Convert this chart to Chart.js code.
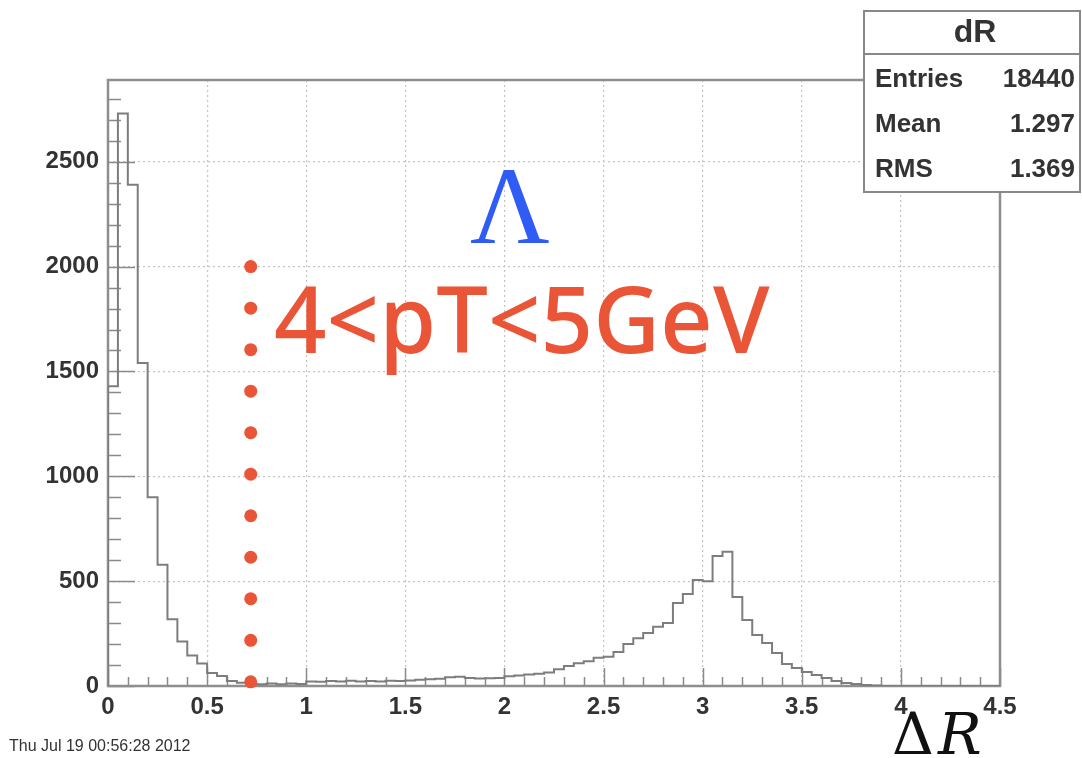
<!DOCTYPE html>
<html>
<head>
<meta charset="utf-8">
<title>dR</title>
<script src="https://cdn.jsdelivr.net/npm/chart.js@4.4.1/dist/chart.umd.min.js"></script>
<style>
  html, body { margin: 0; padding: 0; background: #fff; }
  #wrap { position: relative; width: 1082px; height: 758px; }
</style>
</head>
<body>
<div id="wrap"><canvas id="dr" width="1082" height="758"></canvas></div>
<script>
// dR histogram, 90 bins of 0.05 from 0 to 4.5
const binLow = 0
const binWidth = 0.05
const counts = [
  1430, 2730, 2390, 1540, 900, 578, 318, 212, 145, 107,
  62, 48, 24, 15, 10, 8, 12, 8, 12, 10,
  22, 20, 24, 22, 25, 22, 24, 22, 25, 24,
  26, 30, 32, 34, 42, 44, 38, 36, 37, 38,
  46, 50, 55, 58, 64, 80, 95, 108, 118, 135,
  140, 162, 200, 228, 253, 282, 300, 396, 439, 506,
  500, 620, 640, 425, 315, 243, 205, 157, 105, 86,
  67, 52, 38, 24, 14, 10, 5, 2, 0, 0,
  0, 0, 0, 0, 0, 0, 0, 0, 0, 0
]

// axis labels
const xMajor = [0, 0.5, 1, 1.5, 2, 2.5, 3, 3.5, 4, 4.5]
const xLabels = ["0", "0.5", "1", "1.5", "2", "2.5", "3", "3.5", "4", "4.5"]
const yMajor = [0, 500, 1000, 1500, 2000, 2500]
const yLabels = ["0", "500", "1000", "1500", "2000", "2500"]
const yMax = 2890

// cut marker (dotted red line)
const cutX = 0.72
const cutDots = [20, 218, 416, 614, 812, 1010, 1208, 1406, 1604, 1802, 2000]

// stats box
const statsTitle = "dR"
const statsNames = ["Entries", "Mean", "RMS"]
const statsValues = ["18440", "1.297", "1.369"]

const stamp = "Thu Jul 19 00:56:28 2012"

const RED = "#eb5537"

let histPoints = [{ x: binLow, y: 0 }]
counts.forEach((c, i) => histPoints.push({ x: binLow + i * binWidth, y: c }))
histPoints.push({ x: binLow + counts.length * binWidth, y: 0 })

const near = (v, list) => list.findIndex(m => Math.abs(m - v) < 1e-6)

// ticks drawn inward + frame, like a ROOT pad
let frame = {
  id: "frame",
  beforeDatasetsDraw(chart) {
    const { ctx, chartArea: a, scales: { x, y } } = chart
    ctx.save()
    ctx.strokeStyle = "#8a8a8a"
    ctx.lineWidth = 1.5
    ctx.beginPath()
    for (let i = 0; i <= 45; i++) {
      const px = Math.round(x.getPixelForValue(i / 10)) + 0.5
      const len = i % 5 === 0 ? 18 : 9
      ctx.moveTo(px, a.bottom)
      ctx.lineTo(px, a.bottom - len)
    }
    for (let i = 0; i <= 28; i++) {
      const py = Math.round(y.getPixelForValue(i * 100)) + 0.5
      const len = i % 5 === 0 ? 27 : 13
      ctx.moveTo(a.left, py)
      ctx.lineTo(a.left + len, py)
    }
    ctx.stroke()
    ctx.lineWidth = 2.5
    ctx.strokeStyle = "#8e8e8e"
    ctx.strokeRect(a.left, a.top, a.right - a.left, a.bottom - a.top)
    ctx.restore()
  },
  afterDraw(chart) {
    const { ctx } = chart
    ctx.save()

    // particle label
    ctx.fillStyle = "#2f5cf5"
    ctx.font = "110px 'Liberation Serif'"
    ctx.textAlign = "center"
    ctx.textBaseline = "alphabetic"
    ctx.fillText("Λ", 510, 243)

    // pT range
    ctx.fillStyle = RED
    ctx.font = "500 92px 'Noto Sans'"
    ctx.textAlign = "left"
    ctx.fillText("4<pT<5GeV", 274, 353)

    // x axis title
    ctx.fillStyle = "#111"
    ctx.font = "58px 'DejaVu Serif'"
    ctx.fillText("Δ", 892, 754)
    ctx.font = "italic 58px 'DejaVu Serif'"
    ctx.fillText("R", 938, 754)

    // date stamp
    ctx.fillStyle = "#333"
    ctx.font = "16px 'Liberation Sans'"
    ctx.fillText(stamp, 9, 751)

    // stats box
    const bx = 864, by = 11, bw = 216, bh = 181
    ctx.fillStyle = "#fff"
    ctx.fillRect(bx, by, bw, bh)
    ctx.strokeStyle = "#888"
    ctx.lineWidth = 2
    ctx.strokeRect(bx, by, bw, bh)
    ctx.beginPath()
    ctx.moveTo(bx, 54)
    ctx.lineTo(bx + bw, 54)
    ctx.stroke()
    ctx.fillStyle = "#333"
    ctx.font = "bold 32px 'Liberation Sans'"
    ctx.textAlign = "center"
    ctx.textBaseline = "middle"
    ctx.fillText(statsTitle, 975, 33)
    ctx.font = "bold 26px 'Liberation Sans'"
    statsNames.forEach((n, i) => {
      const ty = 80 + i * 45
      ctx.textAlign = "left"
      ctx.fillText(n, 875, ty)
      ctx.textAlign = "right"
      ctx.fillText(statsValues[i], 1075, ty)
    })
    ctx.restore()
  }
}

const gridColor = (c) => c.tick.value > 0 ? "#c4c4c4" : "rgba(0,0,0,0)"
const tickFont = { family: "'Liberation Sans'", size: 24, weight: "bold" }

new Chart(document.getElementById("dr"), {
  type: "line",
  data: {
    datasets: [
      {
        data: histPoints,
        stepped: "before",
        borderColor: "#7d7d7d",
        borderWidth: 2,
        pointRadius: 0,
        fill: false,
        order: 2
      },
      {
        type: "scatter",
        data: cutDots.map(v => ({ x: cutX, y: v })),
        pointRadius: 6.5,
        pointBackgroundColor: RED,
        pointBorderWidth: 0,
        showLine: false,
        clip: false,
        order: 1
      }
    ]
  },
  options: {
    responsive: false,
    animation: false,
    devicePixelRatio: 1,
    layout: { padding: { top: 80, right: 82, left: 0, bottom: 0 } },
    plugins: { legend: { display: false }, tooltip: { enabled: false } },
    scales: {
      x: {
        type: "linear",
        min: 0,
        max: 4.5,
        afterFit(s) { s.height = 72 },
        afterBuildTicks(s) { s.ticks = xMajor.map(v => ({ value: v })) },
        border: { display: false, dash: [2, 3] },
        grid: { color: gridColor, lineWidth: 1.2, drawTicks: false },
        ticks: {
          autoSkip: false,
          maxRotation: 0,
          padding: 7,
          color: "#333",
          font: tickFont,
          callback: (v) => xLabels[near(v, xMajor)]
        }
      },
      y: {
        min: 0,
        max: yMax,
        afterFit(s) { s.width = 108 },
        afterBuildTicks(s) { s.ticks = yMajor.map(v => ({ value: v })) },
        border: { display: false, dash: [2, 3] },
        grid: { color: gridColor, lineWidth: 1.2, drawTicks: false },
        ticks: {
          autoSkip: false,
          padding: 9,
          color: "#333",
          font: tickFont,
          callback: (v) => yLabels[near(v, yMajor)]
        }
      }
    }
  },
  plugins: [frame]
})
</script>
</body>
</html>
